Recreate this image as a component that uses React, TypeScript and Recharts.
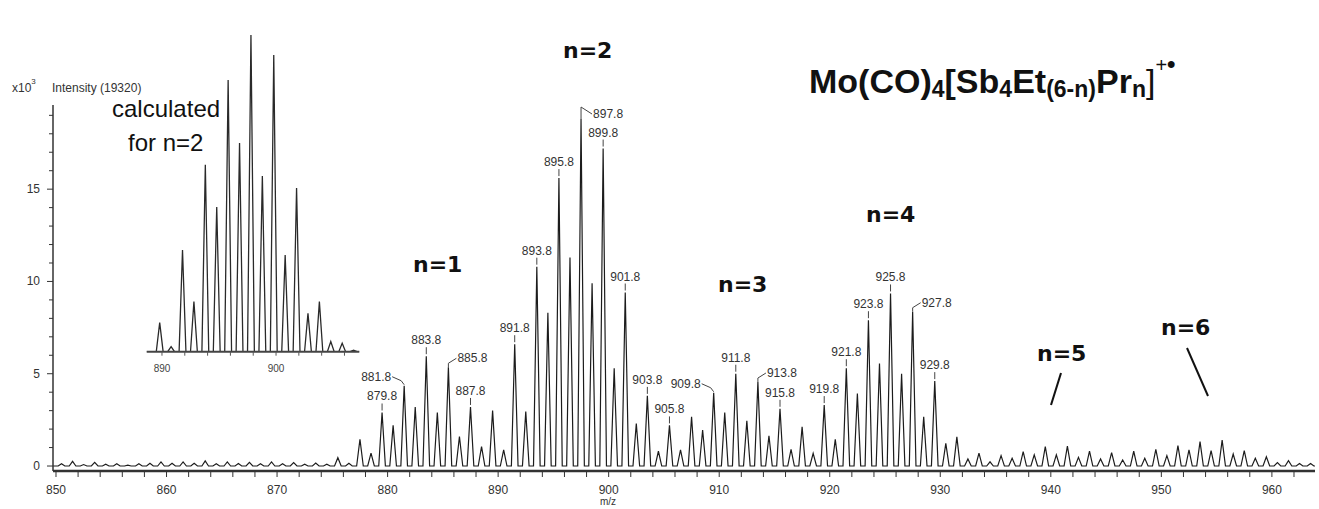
import React from "react";
import { ComposedChart, Line, Scatter, XAxis, YAxis } from "recharts";

// measured spectrum: one isotope peak per integer mass, starting at 850.8 (intensity x10^3)
const mainStart = 850.8;
const mainHeights = [
  0.12, 0.25, 0.08, 0.2, 0.1, 0.12, 0.05, 0.12, 0.15, 0.22, // 850.8 - 859.8
  0.15, 0.22, 0.15, 0.28, 0.12, 0.22, 0.14, 0.2, 0.12, 0.22, // 860.8 - 869.8
  0.12, 0.18, 0.1, 0.16, 0.1, 0.45, 0.15, 1.45, 0.7, 2.9, // 870.8 - 879.8
  2.2, 4.35, 3.2, 5.95, 2.9, 5.35, 1.6, 3.2, 1.05, 3.0, // 880.8 - 889.8
  0.87, 6.6, 2.95, 10.8, 8.3, 15.6, 11.3, 18.8, 9.9, 17.2, // 890.8 - 899.8
  5.3, 9.4, 2.3, 3.8, 0.8, 2.2, 0.87, 2.67, 1.95, 3.97, // 900.8 - 909.8
  2.9, 5.0, 2.45, 4.55, 1.64, 3.1, 0.9, 2.13, 0.69, 3.3, // 910.8 - 919.8
  1.44, 5.3, 3.93, 7.9, 5.56, 9.35, 5.0, 8.36, 2.67, 4.6, // 920.8 - 929.8
  1.23, 1.58, 0.38, 0.7, 0.23, 0.56, 0.42, 0.78, 0.6, 1.05, // 930.8 - 939.8
  0.6, 1.08, 0.47, 0.81, 0.38, 0.72, 0.33, 0.8, 0.42, 0.9, // 940.8 - 949.8
  0.56, 1.1, 0.87, 1.32, 0.83, 1.4, 0.65, 0.83, 0.42, 0.5, // 950.8 - 959.8
  0.18, 0.29, 0.14, 0.14, // 960.8 - 963.8
];

// calculated pattern for n=2 (% of base peak)
const insetStart = 889.8;
const insetHeights = [
  9.2, 1.6, 32.1, 15.8, 59.0, 45.7, 85.8, 65.9, 100, 55.5, 93.7, 30.5, 51.7, 12.1,
  15.8, 3.2, 2.7, 0.5,
];

const labelledPeaks = [
  879.8, 881.8, 883.8, 885.8, 887.8, 891.8, 893.8, 895.8, 897.8, 899.8, 901.8, 903.8,
  905.8, 909.8, 911.8, 913.8, 915.8, 919.8, 921.8, 923.8, 925.8, 927.8, 929.8,
];
const insetLabelledPeaks = [897.8];

const xTicks = [
  850, 852, 854, 856, 858, 860, 862, 864, 866, 868, 870, 872, 874, 876, 878, 880, 882, 884,
  886, 888, 890, 892, 894, 896, 898, 900, 902, 904, 906, 908, 910, 912, 914, 916, 918, 920,
  922, 924, 926, 928, 930, 932, 934, 936, 938, 940, 942, 944, 946, 948, 950, 952, 954, 956,
  958, 960, 962,
];
const xTickLabels = [850, 860, 870, 880, 890, 900, 910, 920, 930, 940, 950, 960];
const yTicks = [0, 1, 2, 3, 4, 5, 6, 7, 8, 9, 10, 11, 12, 13, 14, 15, 16, 17, 18, 19];
const yTickLabels = [0, 5, 10, 15];
const insetTicks = [890, 892, 894, 896, 898, 900, 902, 904, 906];
const insetTickLabels = [890, 900];

const groups = [
  { text: "n=1", x: 413, y: 272 },
  { text: "n=2", x: 563, y: 58 },
  { text: "n=3", x: 718, y: 292 },
  { text: "n=4", x: 866, y: 222 },
  { text: "n=5", x: 1037, y: 361 },
  { text: "n=6", x: 1161, y: 335 },
];

// which labels use a bent leader instead of a straight stub
const leaderKind: Record<string, string> = {
  "881.8": "left",
  "909.8": "left",
  "885.8": "right",
  "913.8": "right",
  "927.8": "right",
  "897.8": "top",
};

const FONT = "'Liberation Sans', Arial, Helvetica, sans-serif";
const INK = "#1c1c1c";
const SHIFT = -0.3; // profile apex sits a little left of the centroid value
const HALF_WIDTH = 0.3;

function buildProfile(start: number, heights: number[], shift: number, x0: number, x1: number) {
  const pts = [{ mz: x0, v: 0 }];
  heights.forEach((h, i) => {
    const c = start + i + shift;
    pts.push({ mz: c - HALF_WIDTH, v: 0 }, { mz: c, v: h }, { mz: c + HALF_WIDTH, v: 0 });
  });
  pts.push({ mz: x1, v: 0 });
  return pts;
}

const mainDomain: [number, number] = [849.73, 963.9];
const insetDomain: [number, number] = [888.66, 907.3];

const mainData = buildProfile(mainStart, mainHeights, SHIFT, mainDomain[0], mainDomain[1]);
const insetData = buildProfile(insetStart, insetHeights, 0, insetDomain[0], insetDomain[1]);

const mainLabels = labelledPeaks.map((m) => ({
  mz: m + SHIFT,
  v: mainHeights[Math.round(m - mainStart)],
  text: m.toFixed(1),
  kind: leaderKind[m.toFixed(1)] || "stub",
}));
const insetLabels = insetLabelledPeaks.map((m) => ({
  mz: m,
  v: insetHeights[Math.round(m - insetStart)],
  text: m.toFixed(1),
  kind: "topInset",
}));

const PeakLabel = (props: any) => {
  const { cx, cy, payload } = props;
  const t = { fontFamily: FONT, fontSize: 12, fill: "#333" };
  const ln = { fill: "none", stroke: "#444", strokeWidth: 1 };
  switch (payload.kind) {
    case "left":
      return (
        <g>
          <polyline points={`${cx - 12},${cy - 9} ${cx - 3},${cy - 5} ${cx},${cy - 1}`} {...ln} />
          <text x={cx - 13} y={cy - 5} textAnchor="end" {...t}>{payload.text}</text>
        </g>
      );
    case "right":
      return (
        <g>
          <polyline points={`${cx},${cy} ${cx},${cy - 4} ${cx + 8},${cy - 9}`} {...ln} />
          <text x={cx + 9} y={cy - 5} {...t}>{payload.text}</text>
        </g>
      );
    case "top":
      return (
        <g>
          <polyline points={`${cx},${cy} ${cx},${cy - 12} ${cx + 11},${cy - 5}`} {...ln} />
          <text x={cx + 12} y={cy - 1} {...t}>{payload.text}</text>
        </g>
      );
    case "topInset":
      return (
        <g>
          <polyline points={`${cx},${cy} ${cx},${cy - 20} ${cx + 7},${cy - 13}`} {...ln} />
          <text x={cx + 8} y={cy - 9} {...t}>{payload.text}</text>
        </g>
      );
    default:
      return (
        <g>
          <line x1={cx} y1={cy - 2} x2={cx} y2={cy - 9} {...ln} />
          <text x={cx} y={cy - 12} textAnchor="middle" {...t}>{payload.text}</text>
        </g>
      );
  }
};

const YTick = (props: any) => {
  const { x, y, payload } = props;
  const major = yTickLabels.includes(payload.value);
  return (
    <g>
      <line x1={x - (major ? 6 : 4)} x2={x} y1={y} y2={y} stroke="#333" strokeWidth={1} />
      {major && (
        <text x={x - 13} y={y + 4} textAnchor="end" fontFamily={FONT} fontSize={12} fill="#333">
          {payload.value}
        </text>
      )}
    </g>
  );
};

const XTick = (props: any) => {
  const { x, y, payload } = props;
  const labelled = xTickLabels.includes(payload.value);
  return (
    <g>
      <line x1={x} x2={x} y1={y} y2={y + 6} stroke="#333" strokeWidth={1} />
      {labelled && (
        <text x={x} y={y + 23} textAnchor="middle" fontFamily={FONT} fontSize={12} fill="#333">
          {payload.value}
        </text>
      )}
    </g>
  );
};

const InsetTick = (props: any) => {
  const { x, y, payload } = props;
  const labelled = insetTickLabels.includes(payload.value);
  return (
    <g>
      <line x1={x} x2={x} y1={y} y2={y + 4} stroke="#555" strokeWidth={1} />
      {labelled && (
        <text x={x} y={y + 20} textAnchor="middle" fontFamily={FONT} fontSize={10} fill="#444">
          {payload.value}
        </text>
      )}
    </g>
  );
};

export default function App() {
  return (
    <div style={{ position: "absolute", left: 0, top: 0, width: 1319, height: 509, background: "#fff" }}>
      <div style={{ position: "absolute", left: 0, top: 0 }}>
        <ComposedChart width={1319} height={509} data={mainData} margin={{ top: 105, right: 4, bottom: 0, left: 0 }}>
          <XAxis
            dataKey="mz"
            type="number"
            domain={mainDomain}
            allowDataOverflow
            ticks={xTicks}
            interval={0}
            tick={<XTick />}
            tickLine={false}
            tickSize={0}
            tickMargin={0}
            height={38}
            axisLine={{ stroke: "#333", strokeWidth: 2.5 }}
          />
          <YAxis
            type="number"
            domain={[-0.27, 19.56]}
            allowDataOverflow
            ticks={yTicks}
            interval={0}
            tick={<YTick />}
            tickLine={false}
            tickSize={0}
            tickMargin={0}
            width={53}
            axisLine={{ stroke: "#333", strokeWidth: 1.5 }}
          />
          <Line dataKey="v" type="linear" stroke={INK} strokeWidth={1.2} dot={false} isAnimationActive={false} />
          <Scatter data={mainLabels} dataKey="v" shape={<PeakLabel />} isAnimationActive={false} />
        </ComposedChart>
      </div>

      <div style={{ position: "absolute", left: 140, top: 0 }}>
        <ComposedChart width={230} height={385} data={insetData} margin={{ top: 35, right: 10.7, bottom: 0, left: 6.7 }}>
          <XAxis
            dataKey="mz"
            type="number"
            domain={insetDomain}
            allowDataOverflow
            ticks={insetTicks}
            interval={0}
            tick={<InsetTick />}
            tickLine={false}
            tickSize={0}
            tickMargin={0}
            height={33.3}
            axisLine={{ stroke: "#444", strokeWidth: 2 }}
          />
          <YAxis hide type="number" domain={[0, 100]} allowDataOverflow />
          <Line dataKey="v" type="linear" stroke="#2a2a2a" strokeWidth={1.3} dot={false} isAnimationActive={false} />
          <Scatter data={insetLabels} dataKey="v" shape={<PeakLabel />} isAnimationActive={false} />
        </ComposedChart>
      </div>

      <svg width={1319} height={509} style={{ position: "absolute", left: 0, top: 0, pointerEvents: "none" }}>
        <text x={12} y={92} fontFamily={FONT} fontSize={12} fill="#333">
          x10<tspan dy={-8} fontSize={8}>3</tspan>
        </text>
        <text x={52} y={92} fontFamily={FONT} fontSize={12} fill="#333">Intensity (19320)</text>

        <text x={112} y={117} fontFamily={FONT} fontSize={24} fill="#111">calculated</text>
        <text x={128} y={151} fontFamily={FONT} fontSize={24} fill="#111">for n=2</text>

        {groups.map((g) => (
          <text key={g.text} x={g.x} y={g.y} fontFamily="'DejaVu Sans', sans-serif" fontWeight="bold" fontSize={22} fill="#111">
            {g.text}
          </text>
        ))}
        <line x1={1061} y1={373} x2={1051} y2={405} stroke="#111" strokeWidth={2} />
        <line x1={1187} y1={348} x2={1208} y2={396} stroke="#111" strokeWidth={2} />

        <text x={809} y={93} fontFamily={FONT} fontWeight="bold" fontSize={34} fill="#111">
          Mo(CO)
          <tspan fontSize={23} dy={4}>4</tspan>
          <tspan fontSize={34} dy={-4}>[Sb</tspan>
          <tspan fontSize={23} dy={4}>4</tspan>
          <tspan fontSize={34} dy={-4}>Et</tspan>
          <tspan fontSize={23} dy={4}>(6-n)</tspan>
          <tspan fontSize={34} dy={-4}>Pr</tspan>
          <tspan fontSize={23} dy={4}>n</tspan>
          <tspan fontSize={34} dy={-4} fontWeight="normal">]</tspan>
          <tspan fontSize={20} dy={-21} fontWeight="normal">+</tspan>
          <tspan fontSize={24} dy={0}>•</tspan>
        </text>

        <text x={608} y={505} textAnchor="middle" fontFamily={FONT} fontSize={10} fill="#333">m/z</text>
      </svg>
    </div>
  );
}
